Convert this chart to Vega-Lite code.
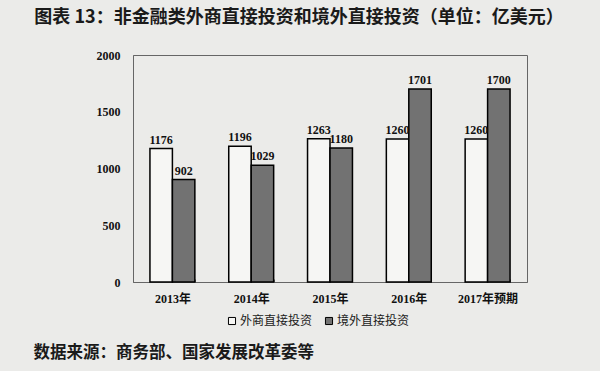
{
  "$schema": "https://vega.github.io/schema/vega-lite/v6.json",
  "width": 394,
  "height": 227,
  "autosize": {"type": "none"},
  "padding": {"left": 133, "top": 55, "right": 73, "bottom": 89},
  "background": "#ebebe9",
  "title": {
    "text": "图表 13：非金融类外商直接投资和境外直接投资（单位：亿美元）",
    "font": "Noto Sans CJK SC",
    "fontSize": 18,
    "fontWeight": "bold",
    "color": "#1a1a1a",
    "anchor": "middle",
    "dx": -31,
    "offset": 22
  },
  "config": {
    "view": {"stroke": "#666666", "strokeWidth": 1},
    "axis": {"domainColor": "#666666", "grid": false}
  },
  "data": {
    "values": [
      {"year": "2013年", "series": "外商直接投资", "value": 1176},
      {"year": "2013年", "series": "境外直接投资", "value": 902},
      {"year": "2014年", "series": "外商直接投资", "value": 1196},
      {"year": "2014年", "series": "境外直接投资", "value": 1029},
      {"year": "2015年", "series": "外商直接投资", "value": 1263},
      {"year": "2015年", "series": "境外直接投资", "value": 1180},
      {"year": "2016年", "series": "外商直接投资", "value": 1260},
      {"year": "2016年", "series": "境外直接投资", "value": 1701},
      {"year": "2017年预期", "series": "外商直接投资", "value": 1260},
      {"year": "2017年预期", "series": "境外直接投资", "value": 1700}
    ]
  },
  "encoding": {
    "x": {
      "field": "year",
      "type": "nominal",
      "sort": null,
      "scale": {"paddingInner": 0.43, "paddingOuter": 0.215},
      "axis": {
        "title": "数据来源：商务部、国家发展改革委等",
        "titleFont": "Noto Sans CJK SC",
        "titleFontSize": 16.5,
        "titleFontWeight": "bold",
        "titleColor": "#1a1a1a",
        "titleAnchor": "start",
        "titleAlign": "left",
        "titleBaseline": "middle",
        "titleX": -100,
        "titleY": 70,
        "labelAngle": 0,
        "labelFont": "Liberation Serif, Noto Sans CJK SC",
        "labelFontSize": 12,
        "labelFontWeight": "bold",
        "labelColor": "#111111",
        "labelPadding": 14,
        "ticks": true,
        "tickBand": "extent",
        "tickSize": -3,
        "tickColor": "#666666"
      }
    },
    "y": {
      "field": "value",
      "type": "quantitative",
      "scale": {"domain": [0, 2000]},
      "axis": {
        "title": null,
        "values": [0, 500, 1000, 1500, 2000],
        "format": "d",
        "ticks": false,
        "labelFont": "Liberation Serif",
        "labelFontSize": 12,
        "labelFontWeight": "bold",
        "labelColor": "#111111",
        "labelPadding": 13
      }
    },
    "xOffset": {"field": "series", "type": "nominal", "sort": ["外商直接投资", "境外直接投资"]}
  },
  "layer": [
    {
      "mark": {"type": "bar", "stroke": "#000000", "strokeWidth": 1.5},
      "encoding": {
        "fill": {
          "field": "series",
          "type": "nominal",
          "sort": ["外商直接投资", "境外直接投资"],
          "scale": {"domain": ["外商直接投资", "境外直接投资"], "range": ["#f6f6f4", "#727272"]},
          "legend": {
            "title": null,
            "orient": "none",
            "legendX": 93,
            "legendY": 260,
            "direction": "horizontal",
            "symbolType": "square",
            "symbolSize": 50,
            "symbolStrokeColor": "#000000",
            "symbolStrokeWidth": 1,
            "labelFont": "Noto Sans CJK SC",
            "labelFontSize": 12,
            "labelColor": "#1a1a1a",
            "labelOffset": 2,
            "columnPadding": 10
          }
        }
      }
    },
    {
      "mark": {
        "type": "text",
        "dy": -9,
        "font": "Liberation Serif",
        "fontSize": 12,
        "fontWeight": "bold",
        "color": "#111111"
      },
      "encoding": {
        "text": {"field": "value", "type": "quantitative"}
      }
    }
  ]
}
